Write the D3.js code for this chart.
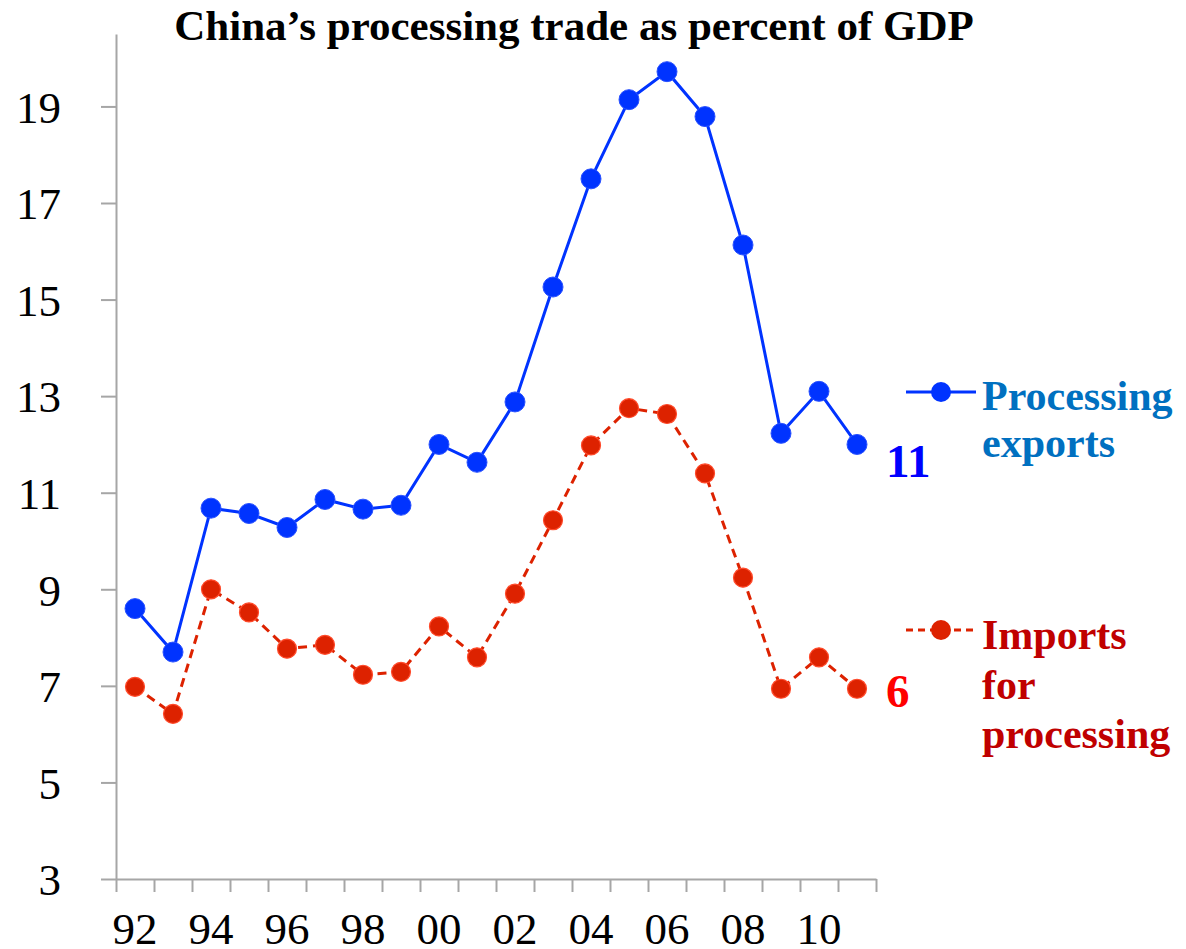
<!DOCTYPE html>
<html>
<head>
<meta charset="utf-8">
<script src="https://cdn.jsdelivr.net/npm/d3@7"></script>
<style>
  html, body { margin: 0; padding: 0; background: #fff; overflow: hidden; }
  svg { display: block; }
  text { font-family: "Liberation Serif", "Times New Roman", serif; }
</style>
</head>
<body>
<svg id="chart" width="1186" height="949"></svg>
<script>
// Years 1992–2011, shown as two-digit labels
const years = ["92","93","94","95","96","97","98","99","00","01",
               "02","03","04","05","06","07","08","09","10","11"];
const yearLabels = ["92","94","96","98","00","02","04","06","08","10"];

// Processing exports, % of GDP
const processingExports = [8.6, 7.7, 10.68, 10.57, 10.28, 10.86, 10.66, 10.74, 12.0, 11.63,
                           12.88, 15.26, 17.5, 19.14, 19.72, 18.79, 16.13, 12.23, 13.1, 12.0];
// Imports for processing, % of GDP
const importsForProcessing = [6.98, 6.42, 9.0, 8.52, 7.77, 7.85, 7.23, 7.29, 8.23, 7.59,
                              8.91, 10.43, 11.98, 12.75, 12.63, 11.4, 9.24, 6.94, 7.59, 6.94];

const yTicks = [3, 5, 7, 9, 11, 13, 15, 17, 19];
const endLabels = ["11", "6"];

const svg = d3.select("#chart");
const plotLeft = 116, plotRight = 876, plotTop = 34, plotBottom = 879;

const x = d3.scaleBand().domain(years).range([plotLeft, plotRight]).padding(0);
const y = d3.scaleLinear().domain([3, 20.5]).range([plotBottom, plotTop]);
const boundary = d3.scaleLinear().domain([0, years.length]).range([plotLeft, plotRight]);

const axisColor = "#a6a6a6";

// Title
svg.append("text")
  .attr("x", 574).attr("y", 40)
  .attr("text-anchor", "middle")
  .attr("font-size", 43).attr("font-weight", "bold")
  .attr("fill", "#000")
  .text("China\u2019s processing trade as percent of GDP");

// Y axis
const yAxis = svg.append("g")
  .attr("transform", `translate(${plotLeft},0)`)
  .call(d3.axisLeft(y).tickValues(yTicks).tickSize(15).tickPadding(40).tickSizeOuter(0));
yAxis.select(".domain").attr("stroke", axisColor).attr("stroke-width", 2);
yAxis.selectAll(".tick line").attr("stroke", axisColor).attr("stroke-width", 2);
yAxis.selectAll(".tick text")
  .attr("font-size", 45).attr("fill", "#000").attr("dy", "0.35em");

// X axis: boundary ticks between years
const xTickAxis = svg.append("g")
  .attr("transform", `translate(0,${plotBottom})`)
  .call(d3.axisBottom(boundary).tickValues(d3.range(0, years.length + 1))
        .tickSize(13).tickSizeOuter(0).tickFormat(""));
xTickAxis.select(".domain").attr("stroke", axisColor).attr("stroke-width", 2);
xTickAxis.selectAll(".tick line").attr("stroke", axisColor).attr("stroke-width", 2);

// X axis: year labels centred in each band
const xLabelAxis = svg.append("g")
  .attr("transform", `translate(0,${plotBottom})`)
  .call(d3.axisBottom(x).tickValues(yearLabels).tickSize(0).tickPadding(0));
xLabelAxis.select(".domain").remove();
xLabelAxis.selectAll(".tick text")
  .attr("font-size", 45).attr("fill", "#000")
  .attr("dy", null).attr("y", 65);

const cx = (d, i) => x(years[i]) + x.bandwidth() / 2;
const line = d3.line().x(cx).y(d => y(d));

const blue = "#0033ff";
const red = "#dd2200";

// Imports for processing (dashed red)
svg.append("path")
  .datum(importsForProcessing)
  .attr("d", line)
  .attr("fill", "none")
  .attr("stroke", red)
  .attr("stroke-width", 3)
  .attr("stroke-dasharray", "9,6");
svg.append("g").selectAll("circle")
  .data(importsForProcessing).join("circle")
  .attr("cx", cx).attr("cy", d => y(d)).attr("r", 9.5)
  .attr("fill", red).attr("stroke", "#ff4a2a").attr("stroke-width", 1.2);

// Processing exports (solid blue)
svg.append("path")
  .datum(processingExports)
  .attr("d", line)
  .attr("fill", "none")
  .attr("stroke", blue)
  .attr("stroke-width", 3);
svg.append("g").selectAll("circle")
  .data(processingExports).join("circle")
  .attr("cx", cx).attr("cy", d => y(d)).attr("r", 10)
  .attr("fill", blue).attr("stroke", "#2a52ff").attr("stroke-width", 1);

// End-of-series labels
const lastX = cx(null, years.length - 1);
svg.append("text")
  .attr("x", lastX + 29).attr("y", 477)
  .attr("font-size", 47).attr("font-weight", "bold").attr("fill", "#0000ff")
  .text(endLabels[0]);
svg.append("text")
  .attr("x", lastX + 29).attr("y", 707)
  .attr("font-size", 47).attr("font-weight", "bold").attr("fill", "#ff0000")
  .text(endLabels[1]);

// Legend
const legend = [
  { lines: ["Processing", "exports"], color: blue, textColor: "#0070c0", dash: null, ly: 392, baseline: 410, step: 47 },
  { lines: ["Imports", "for", "processing"], color: red, textColor: "#c00000", dash: "7,5", ly: 630, baseline: 649, step: 49.5 }
];
legend.forEach(l => {
  const g = svg.append("g");
  g.append("line")
    .attr("x1", 906).attr("x2", 976).attr("y1", l.ly).attr("y2", l.ly)
    .attr("stroke", l.color).attr("stroke-width", 3)
    .attr("stroke-dasharray", l.dash);
  g.append("circle").attr("cx", 941).attr("cy", l.ly).attr("r", 10).attr("fill", l.color);
  l.lines.forEach((t, i) => {
    g.append("text")
      .attr("x", 982).attr("y", l.baseline + i * l.step)
      .attr("font-size", 42).attr("font-weight", "bold").attr("fill", l.textColor)
      .text(t);
  });
});
</script>
</body>
</html>
